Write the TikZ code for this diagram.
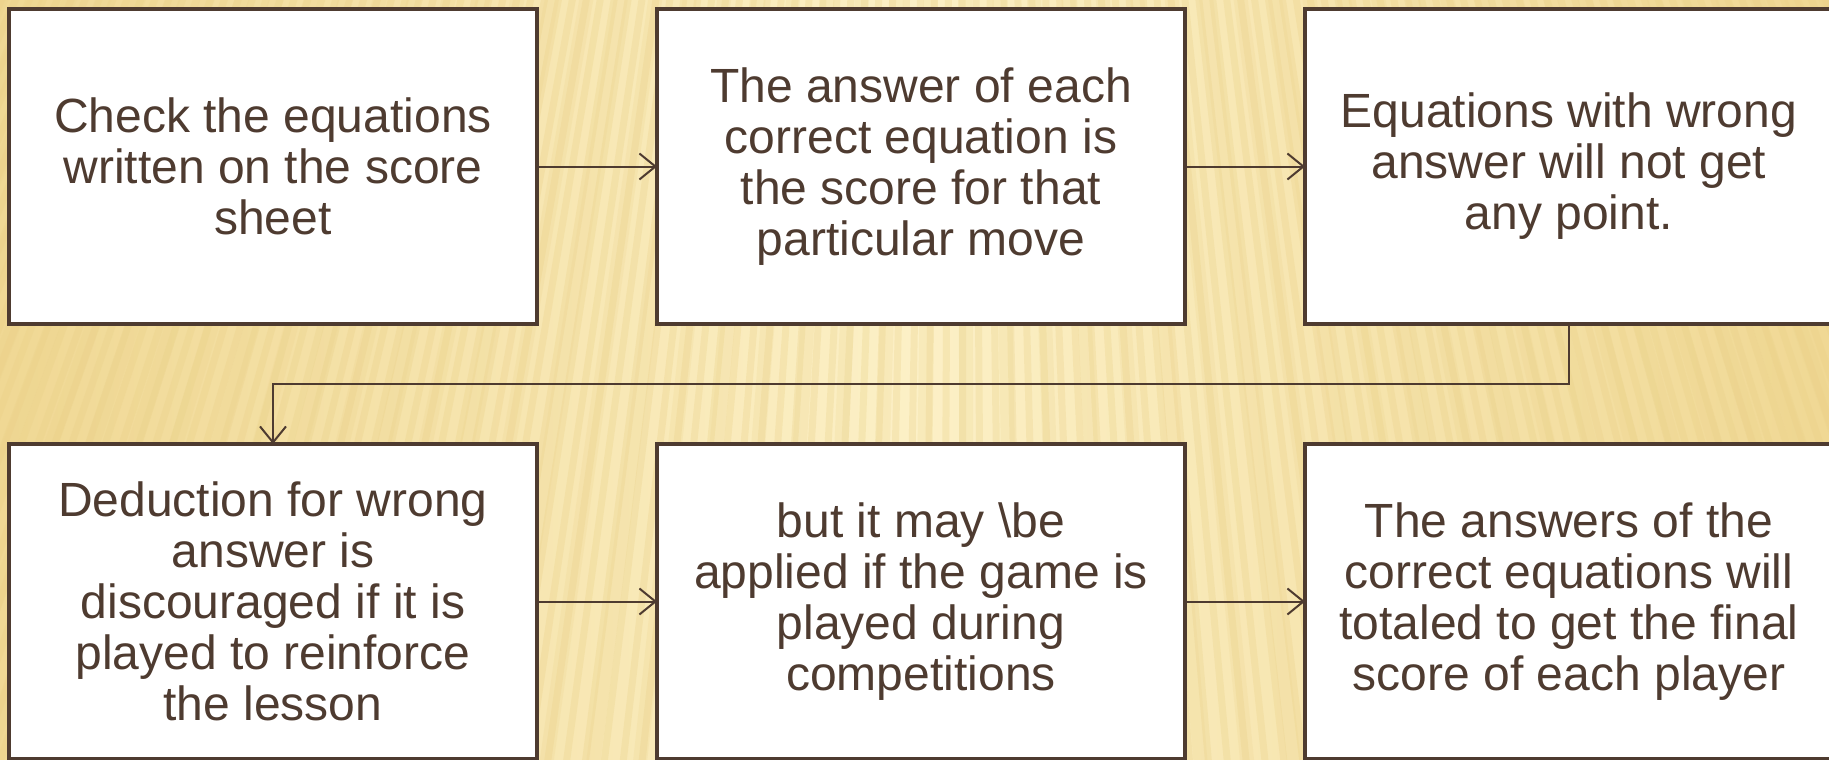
\documentclass[tikz,border=0pt]{standalone}
\usepackage{fontspec}
\setmainfont{Liberation Sans}
\usetikzlibrary{positioning,arrows.meta,calc}
\definecolor{inkbrown}{HTML}{4E3B30}
\definecolor{paper}{HTML}{FCF0C6}
\definecolor{papergold}{HTML}{F0D894}
\definecolor{grain}{HTML}{E9CF85}
\tikzset{
  stepbox/.style={draw=inkbrown, line width=4.5pt, fill=white, outer sep=0pt,
    minimum width=528pt, minimum height=315pt, align=center, text=inkbrown,
    font=\fontsize{48}{51}\selectfont},
  link/.style={draw=inkbrown, line width=2pt,
    -{Straight Barb[length=16pt,width=26pt,line width=2pt]}},
  grainline/.style={draw=grain, line width=7pt, opacity=0.28},
  widegrain/.style={draw=grain, line width=14pt, opacity=0.18}
}
\begin{document}
\begin{tikzpicture}[x=1pt,y=1pt,node distance=120pt]
\useasboundingbox (0,0) rectangle (1829,-760);
\begin{scope}
 \clip (0,0) rectangle (1829,-760);
 \shade[left color=papergold, right color=papergold, middle color=paper] (0,0) rectangle (1829,-760);
 \foreach \x in {-500,-481,...,2400}
   \draw[grainline] (\x,-780) -- ($(\x,-780)!0.28!(960,2140)$);
 \foreach \x in {-490,-443,...,2400}
   \draw[widegrain] (\x,-780) -- ($(\x,-780)!0.28!(960,2140)$);
\end{scope}

\node[stepbox] (check) at (273,-166.5) {Check the equations\\written on the score\\sheet};
\node[stepbox, right=of check] (answer) {The answer of each\\correct equation is\\the score for that\\particular move};
\node[stepbox, right=of answer] (wrong) {Equations with wrong\\answer will not get\\any point.};
\node[stepbox, below=of check] (deduct) {Deduction for wrong\\answer is\\discouraged if it is\\played to reinforce\\the lesson};
\node[stepbox, right=of deduct] (apply) {but it may \textbackslash be\\applied if the game is\\played during\\competitions};
\node[stepbox, right=of apply] (total) {The answers of the\\correct equations will\\totaled to get the final\\score of each player};

\draw[link] (check) -- (answer);
\draw[link] (answer) -- (wrong);
\draw[link] (wrong.south) -- ++(0,-60) -| (deduct.north);
\draw[link] (deduct) -- (apply);
\draw[link] (apply) -- (total);
\end{tikzpicture}
\end{document}
